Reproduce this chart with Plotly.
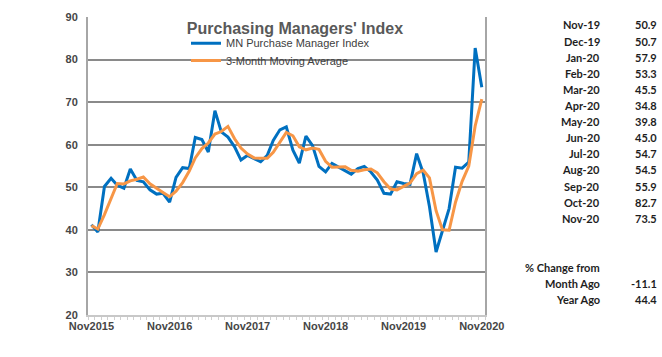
import pandas as pd
import plotly.graph_objects as go

# ---- data ----
months = pd.date_range("2015-11-01", periods=61, freq="MS")

pmi = [41.2, 39.5, 50.2, 52.1, 50.5, 49.8, 54.3, 51.6, 51.3, 49.4, 48.4, 48.6,
       46.5, 52.3, 54.6, 54.4, 61.7, 61.2, 58.3, 68.0, 63.0, 61.8, 59.5, 56.4,
       57.5, 56.8, 56.0, 57.5, 61.0, 63.5, 64.2, 58.7, 55.7, 62.0, 59.8, 54.9,
       53.6, 55.6, 54.8, 54.0, 53.1, 54.4, 54.9, 53.6, 51.7, 48.6, 48.4, 51.3,
       50.9, 50.7, 57.9, 53.3, 45.5, 34.8, 39.8, 45.0, 54.7, 54.5, 55.9, 82.7,
       73.5]

ma3 = [41.0, 40.2, 43.6, 47.3, 50.9, 50.8, 51.5, 51.9, 52.4, 50.8, 49.7, 48.8,
       47.8, 49.1, 51.1, 53.8, 56.9, 59.1, 60.4, 62.5, 63.1, 64.3, 61.4, 59.2,
       57.8, 56.9, 56.8, 56.8, 58.2, 60.7, 62.9, 62.1, 59.5, 58.8, 59.2, 58.9,
       56.1, 54.7, 54.7, 54.8, 54.0, 53.8, 54.1, 54.3, 53.4, 51.3, 49.6, 49.4,
       50.2, 51.0, 53.2, 54.0, 52.2, 44.5, 40.0, 39.9, 46.5, 51.4, 55.0, 64.4,
       70.7]

tick_dates = ["2015-11-01", "2016-11-01", "2017-11-01", "2018-11-01",
              "2019-11-01", "2020-11-01"]
tick_labels = ["Nov2015", "Nov2016", "Nov2017", "Nov2018", "Nov2019", "Nov2020"]

table_labels = ["Nov-19", "Dec-19", "Jan-20", "Feb-20", "Mar-20", "Apr-20",
                "May-20", "Jun-20", "Jul-20", "Aug-20", "Sep-20", "Oct-20",
                "Nov-20"]
table_values = ["50.9", "50.7", "57.9", "53.3", "45.5", "34.8", "39.8", "45.0",
                "54.7", "54.5", "55.9", "82.7", "73.5"]
change_labels = ["Month Ago", "Year Ago"]
change_values = ["-11.1", "44.4"]

# ---- layout constants (pixels) ----
W, H = 662, 357
L, R, T, B = 88, 177, 17, 42
PW, PH = W - L - R, H - T - B

def px_x(x):
    return (x - L) / PW

def px_y(y):
    return (H - B - y) / PH

fig = go.Figure()
fig.add_trace(go.Scatter(x=months, y=pmi, mode="lines",
                         name="MN Purchase Manager Index", legend="legend",
                         line=dict(color="#0070C0", width=3)))
fig.add_trace(go.Scatter(x=months, y=ma3, mode="lines",
                         name="3-Month Moving Average", legend="legend2",
                         line=dict(color="#F79646", width=3)))

annos = []
tfont = dict(family="Lato, Noto Sans, sans-serif", size=11, color="#1e1e1e",
             weight="bold")
row_y0, row_dy = 25, 16.1
for i, (lab, val) in enumerate(zip(table_labels, table_values)):
    yy = px_y(row_y0 + row_dy * i)
    annos.append(dict(x=px_x(602), y=yy, xref="paper", yref="paper", text=lab,
                      showarrow=False, xanchor="right", yanchor="middle", font=tfont))
    annos.append(dict(x=px_x(659), y=yy, xref="paper", yref="paper", text=val,
                      showarrow=False, xanchor="right", yanchor="middle", font=tfont))
annos.append(dict(x=px_x(602), y=px_y(267.7), xref="paper", yref="paper",
                  text="% Change from", showarrow=False, xanchor="right",
                  yanchor="middle", font=tfont))
for i, (lab, val) in enumerate(zip(change_labels, change_values)):
    yy = px_y(283.5 + 16 * i)
    annos.append(dict(x=px_x(602), y=yy, xref="paper", yref="paper", text=lab,
                      showarrow=False, xanchor="right", yanchor="middle", font=tfont))
    annos.append(dict(x=px_x(659), y=yy, xref="paper", yref="paper", text=val,
                      showarrow=False, xanchor="right", yanchor="middle", font=tfont))

axfont = dict(family="Liberation Sans, Arial, sans-serif", size=11,
              color="#464646", weight="bold")
legfont = dict(family="Liberation Sans, Arial, sans-serif", size=11,
               color="#404040")

fig.update_layout(
    width=W, height=H,
    margin=dict(l=L, r=R, t=T, b=B),
    paper_bgcolor="white", plot_bgcolor="white",
    title=dict(text="<b>Purchasing Managers' Index</b>",
               x=295 / W, xanchor="center", xref="container",
               y=1 - 28 / H, yanchor="middle", yref="container",
               font=dict(family="Liberation Sans, Arial, sans-serif", size=16,
                         color="#595959")),
    showlegend=True,
    legend=dict(x=px_x(186), y=px_y(28.7), xanchor="left", yanchor="top",
                bgcolor="rgba(0,0,0,0)", borderwidth=0, font=legfont),
    legend2=dict(x=px_x(186), y=px_y(46), xanchor="left", yanchor="top",
                 bgcolor="rgba(0,0,0,0)", borderwidth=0, font=legfont),
    annotations=annos,
    xaxis=dict(type="date", range=["2015-10-16", "2020-11-16"],
               tickvals=tick_dates, ticktext=tick_labels,
               tickfont=axfont, ticks="", showgrid=False,
               showline=True, linecolor="#c8c8c8", linewidth=1.5,
               ticklabelstandoff=0,
               minor=dict(ticks="outside", dtick="M1", tick0="2015-10-16",
                          ticklen=3, tickcolor="#d0d0d0", tickwidth=1,
                          showgrid=False)),
    yaxis=dict(range=[20, 90], dtick=10, tick0=20, tickfont=axfont,
               showgrid=True, gridcolor="#8a8a8a", gridwidth=1.5,
               showline=True, linecolor="#a6a6a6", linewidth=2, mirror=True,
               ticks="", ticklabelstandoff=6, zeroline=False),
)

fig.write_html("out.html", config={"displayModeBar": False},
               post_script="document.body.style.margin='0';"
                           "document.body.style.overflow='hidden';")
